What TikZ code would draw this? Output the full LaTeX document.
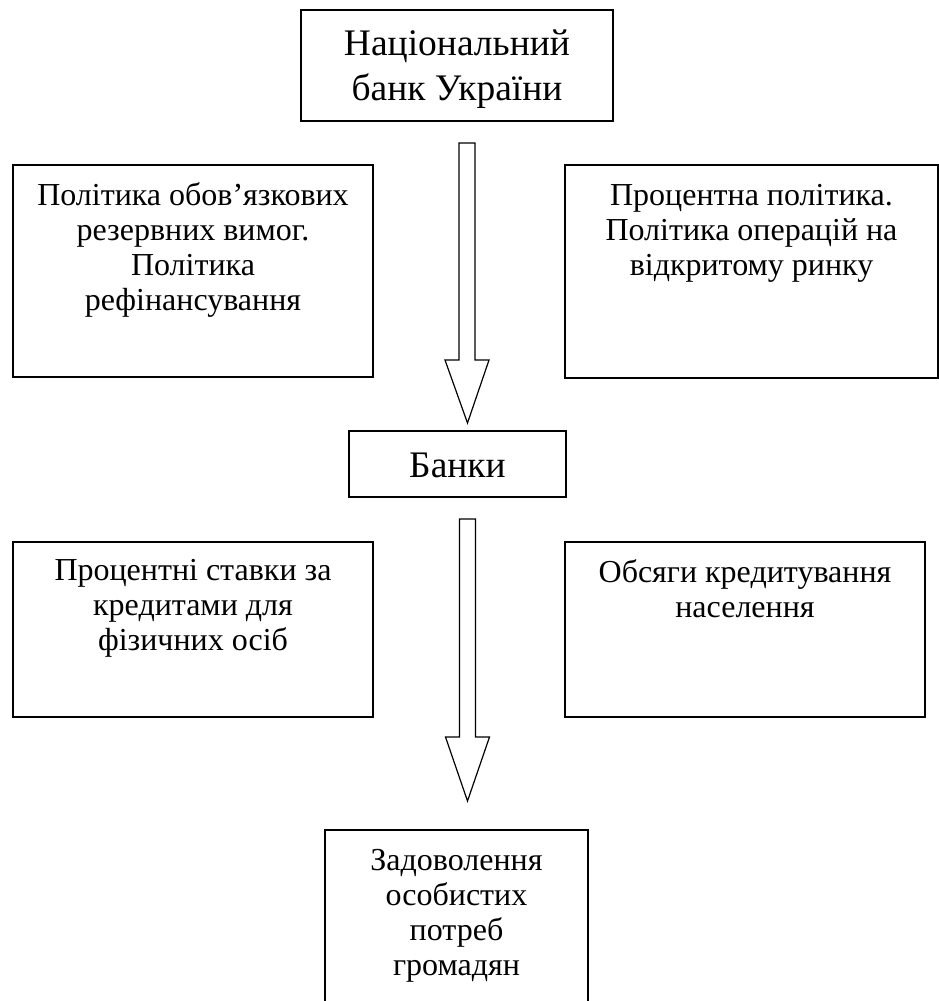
\documentclass[tikz,border=0pt]{standalone}
\usepackage{fontspec}
\setmainfont{Liberation Serif}
\usetikzlibrary{calc}
\newcommand{\bxtext}[4]{\parbox[t][#2][t]{#1}{\centering\rule{0pt}{#3}#4}}
\newcommand{\bodyfont}{\fontsize{32pt}{35pt}\selectfont}
\newcommand{\bigfont}{\fontsize{37.5pt}{45pt}\selectfont}
\begin{document}
\begin{tikzpicture}[x=1pt,y=-1pt,
  bx/.style={draw, line width=1.3pt, inner sep=0pt, outer sep=0pt, anchor=north west},
  barrow/.style={draw, line width=1.2pt, line join=miter, fill=white}]
\clip (0,0) rectangle (939,1001);
\fill[white] (0,0) rectangle (939,1001);

\node[bx] (nbu) at (301,10) {\bigfont\bxtext{312pt}{111pt}{45pt}{Національний\\банк України}};
\node[bx] (l1) at (13,165) {\bodyfont\bxtext{360pt}{212pt}{40pt}{Політика обов’язкових\\резервних вимог.\\Політика\\рефінансування}};
\node[bx] (r1) at (565,165) {\bodyfont\bxtext{373pt}{213pt}{40pt}{Процентна політика.\\Політика операцій на\\відкритому ринку}};
\node[bx] (banky) at (349,431) {\bigfont\bxtext{217pt}{66pt}{46pt}{Банки}};
\node[bx] (l2) at (13,542) {\bodyfont\bxtext{360pt}{175pt}{38pt}{Процентні ставки за\\кредитами для\\фізичних осіб}};
\node[bx] (r2) at (565,542) {\bodyfont\bxtext{360pt}{175pt}{40pt}{Обсяги кредитування\\населення}};
\node[bx] (need) at (325,830) {\bodyfont\bxtext{263pt}{200pt}{40pt}{Задоволення\\особистих\\потреб\\громадян}};

\draw[barrow] let \p1=($(nbu.south)+(10,22)$), \p2=($(banky.north)+(10,-8)$) in
  (\x1-8pt,\y1) -- (\x1+8pt,\y1) -- (\x1+8pt,\y2+63pt) -- (\x1+22pt,\y2+63pt)
  -- (\x2,\y2) -- (\x1-22pt,\y2+63pt) -- (\x1-8pt,\y2+63pt) -- cycle;
\draw[barrow] let \p1=($(banky.south)+(10,22)$), \p2=($(need.north)+(11,-29)$) in
  (\x1-8pt,\y1) -- (\x1+8pt,\y1) -- (\x1+8pt,\y2+64pt) -- (\x1+22pt,\y2+64pt)
  -- (\x2,\y2) -- (\x1-22pt,\y2+64pt) -- (\x1-8pt,\y2+64pt) -- cycle;
\end{tikzpicture}
\end{document}
